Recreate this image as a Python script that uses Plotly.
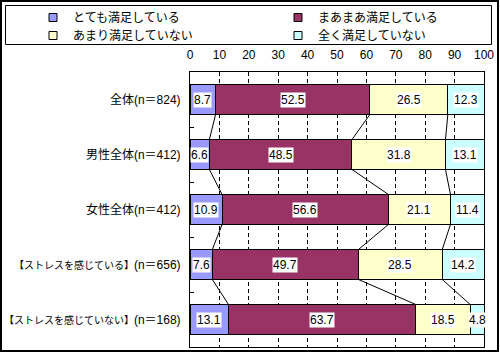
import plotly.graph_objects as go
import numpy as np

categories = ["全体", "男性全体", "女性全体", "【ストレスを感じている】", "【ストレスを感じていない】"]
counts = [824, 412, 412, 656, 168]
series_names = ["とても満足している", "まあまあ満足している", "あまり満足していない", "全く満足していない"]
very_satisfied = [8.7, 6.6, 10.9, 7.6, 13.1]
somewhat_satisfied = [52.5, 48.5, 56.6, 49.7, 63.7]
not_very_satisfied = [26.5, 31.8, 21.1, 28.5, 18.5]
not_at_all_satisfied = [12.3, 13.1, 11.4, 14.2, 4.8]
x_ticks = [0, 10, 20, 30, 40, 50, 60, 70, 80, 90, 100]

colors = ["#9999FF", "#993366", "#FFFFCC", "#CCFFFF"]
series = [very_satisfied, somewhat_satisfied, not_very_satisfied, not_at_all_satisfied]

FONT = "Liberation Sans, Noto Sans CJK JP, sans-serif"
W, H = 500, 353
L, R, T, B = 190, 16, 72, 6
PW, PH = W - L - R, H - T - B


def px(x):
    return (x - L) / PW


def py(y):
    return (H - B - y) / PH


ypos = list(range(len(categories)))
bar_w = 0.545

fig = go.Figure()
for name, vals, col in zip(series_names, series, colors):
    fig.add_trace(go.Bar(
        x=vals, y=ypos, orientation="h", width=bar_w,
        marker=dict(color=col, line=dict(color="black", width=1)),
        showlegend=False, hoverinfo="x",
    ))

# series lines between bars
cum = np.cumsum(np.array(series), axis=0)  # shape (4, ncat)
lx, ly = [], []
for b in range(3):
    for i in range(len(categories) - 1):
        lx += [cum[b][i], cum[b][i + 1], None]
        ly += [ypos[i] + bar_w / 2, ypos[i + 1] - bar_w / 2, None]
fig.add_trace(go.Scatter(x=lx, y=ly, mode="lines", line=dict(color="black", width=1),
                         showlegend=False, hoverinfo="skip"))

# legend entries: one small legend per entry, laid out in a 2x2 grid
legend_ids = ["legend", "legend2", "legend3", "legend4"]
legend_pos = [(33, 3), (278, 3), (33, 21), (278, 21)]  # layout placement (px)
for name, col, lid in zip(series_names, colors, legend_ids):
    fig.add_trace(go.Scatter(
        x=[None], y=[None], mode="markers", name=name, legend=lid,
        marker=dict(symbol="square", size=8, color=col, line=dict(color="black", width=1)),
    ))

# value labels
annotations = []
for s in range(4):
    for i in range(len(categories)):
        v = series[s][i]
        annotations.append(dict(
            x=cum[s][i] - v / 2, y=ypos[i], xref="x", yref="y",
            text=f"{v:.1f}", showarrow=False,
            font=dict(family=FONT, size=12, color="black"),
            bgcolor="white", borderpad=0, borderwidth=1, bordercolor="rgba(0,0,0,0)",
        ))


def cat_label(c, n):
    if c.startswith("【"):
        return f"<span style='font-size:10px'>{c}</span>(n＝{n})"
    return f"{c}(n＝{n})"


ticktext = [cat_label(c, n) for c, n in zip(categories, counts)]

shapes = [
    # outer frame
    dict(type="rect", xref="paper", yref="paper", x0=px(1), x1=px(498), y0=py(1), y1=py(351),
         line=dict(color="black", width=2), fillcolor="rgba(0,0,0,0)", layer="above"),
    # legend box
    dict(type="rect", xref="paper", yref="paper", x0=px(5.5), x1=px(491.5), y0=py(5.5), y1=py(44.5),
         line=dict(color="black", width=1), fillcolor="rgba(0,0,0,0)", layer="above"),
]

layout_legends = {}
for lid, (lxp, lyp) in zip(legend_ids, legend_pos):
    layout_legends[lid] = dict(
        orientation="h", x=px(lxp), xanchor="left", y=py(lyp), yanchor="top",
        bgcolor="rgba(0,0,0,0)", font=dict(family=FONT, size=12),
        itemclick=False, itemdoubleclick=False,
    )

fig.update_layout(
    width=W, height=H,
    margin=dict(l=L, r=R, t=T, b=B, pad=0, autoexpand=False),
    barmode="stack",
    paper_bgcolor="white", plot_bgcolor="white",
    font=dict(family=FONT, size=12, color="black"),
    annotations=annotations,
    shapes=shapes,
    xaxis=dict(
        range=[0, 100], side="top", tickvals=x_ticks, ticks="",
        ticklabelstandoff=7,
        showgrid=True, gridcolor="black", gridwidth=1, griddash="4px,3px",
        zeroline=False, showline=True, linecolor="black", linewidth=1, mirror=True,
        fixedrange=True,
    ),
    yaxis=dict(
        range=[len(categories) - 0.5, -0.5], tickvals=ypos, ticktext=ticktext,
        ticks="", ticklabelstandoff=6, showgrid=False, zeroline=False,
        showline=True, linecolor="black", linewidth=1, mirror=True,
        minor=dict(tickvals=[0.5, 1.5, 2.5, 3.5], ticks="inside", ticklen=4,
                   tickcolor="black", tickwidth=1, showgrid=False),
        fixedrange=True,
    ),
    **layout_legends,
)

fig.write_html("out.html")
